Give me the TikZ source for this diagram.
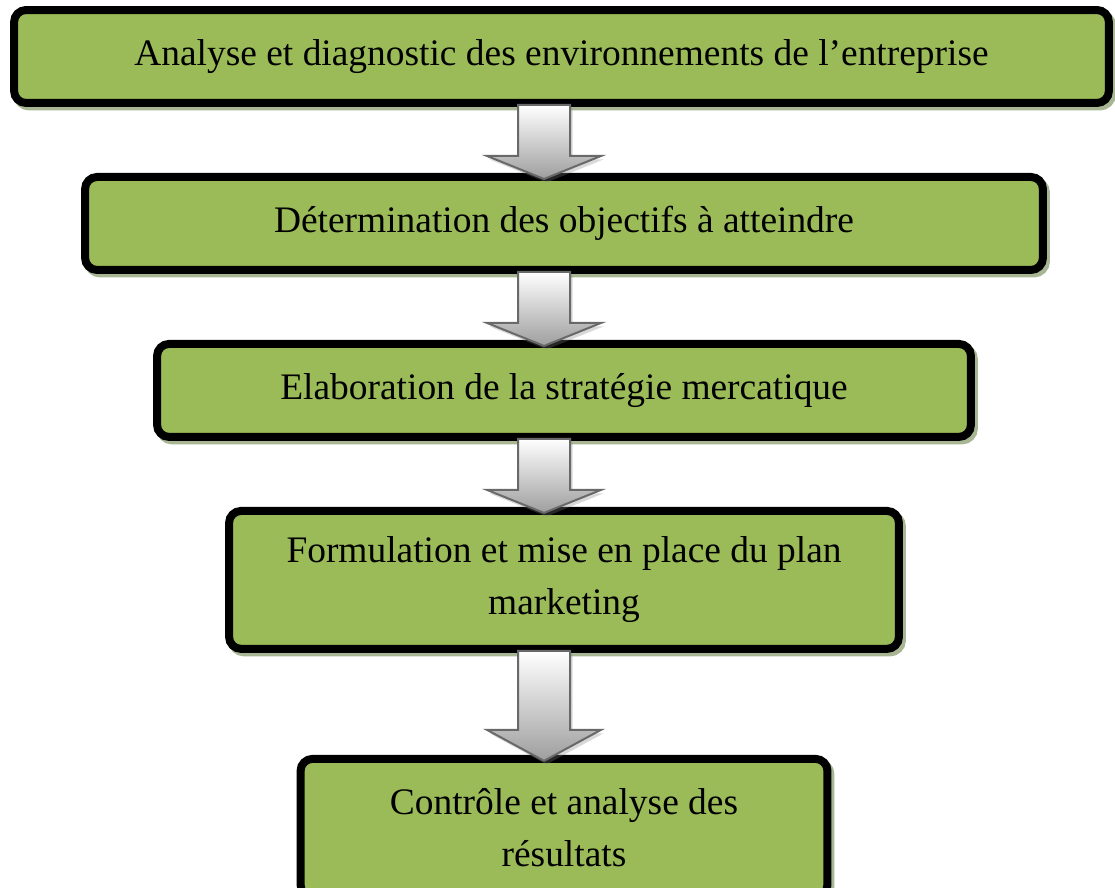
\documentclass[tikz,border=0pt]{standalone}
\usepackage{fontspec}
\setmainfont{Liberation Serif}
\usepackage{tikz}
\usetikzlibrary{
    positioning,
    calc,
    shadows,
}

\definecolor{boxgreen}{HTML}{9BBB59}
\definecolor{boxshadow}{RGB}{168,182,148}
\definecolor{arrowline}{RGB}{105,105,105}

\begin{document}
\begin{tikzpicture}[
        x=0.02cm, y=-0.02cm,
        node distance=1.32cm,
        box/.style={
            rectangle, rounded corners=0.24cm, draw=black, line width=0.16cm,
            fill=boxgreen, minimum width=#1, minimum height=1.86cm,
            align=center, inner sep=0pt, font=\fontsize{21.3}{29.5}\selectfont,
            drop shadow={shadow xshift=0.06cm, shadow yshift=-0.07cm,
                fill=boxshadow, draw=boxshadow, line width=0.16cm, opacity=1}
        },
        box/.default=10cm,
        blockarrow/.style={
            draw=arrowline, line width=0.04cm, line join=miter,
            top color=white, bottom color=black!38,
            drop shadow={shadow xshift=0.05cm, shadow yshift=-0.07cm, opacity=0.3},
            to path={let \p1=(\tikztostart), \p2=(\tikztotarget) in
                (\x1-0.52cm,\y1+0.04cm) -- (\x1-0.52cm,\y2+#1-0.12cm)
                -- (\x1-1.14cm,\y2+#1-0.12cm) -- (\x2,\y2-0.12cm)
                -- (\x1+1.14cm,\y2+#1-0.12cm) -- (\x1+0.52cm,\y2+#1-0.12cm)
                -- (\x1+0.52cm,\y1+0.04cm) -- cycle}
        },
        blockarrow/.default=0.46cm,
    ]
    \useasboundingbox (0,0) rectangle (1115,888);

    % ── Steps ──
    \node[box=21.9cm] (analyse) at (561.5,56.5)
        {Analyse et diagnostic des environnements de l’entreprise};
    \node[box=19.16cm, below=of analyse, xshift=0.05cm] (objectifs)
        {Détermination des objectifs à atteindre};
    \node[box=16.28cm, below=of objectifs] (strategie)
        {Elaboration de la stratégie mercatique};
    \node[box=13.4cm, minimum height=2.76cm, below=of strategie] (plan)
        {Formulation et mise en place du plan\\marketing};
    \node[box=10.54cm, minimum height=2.76cm, below=2.04cm of plan] (controle)
        {Contrôle et analyse des\\résultats};

    % ── Arrows ──
    \coordinate[left=0.35cm of analyse.center] (ax);
    \draw[blockarrow] (analyse.south -| ax) to (objectifs.north -| ax);
    \draw[blockarrow] (objectifs.south -| ax) to (strategie.north -| ax);
    \draw[blockarrow] (strategie.south -| ax) to (plan.north -| ax);
    \draw[blockarrow=0.62cm] (plan.south -| ax) to (controle.north -| ax);

\end{tikzpicture}
\end{document}
